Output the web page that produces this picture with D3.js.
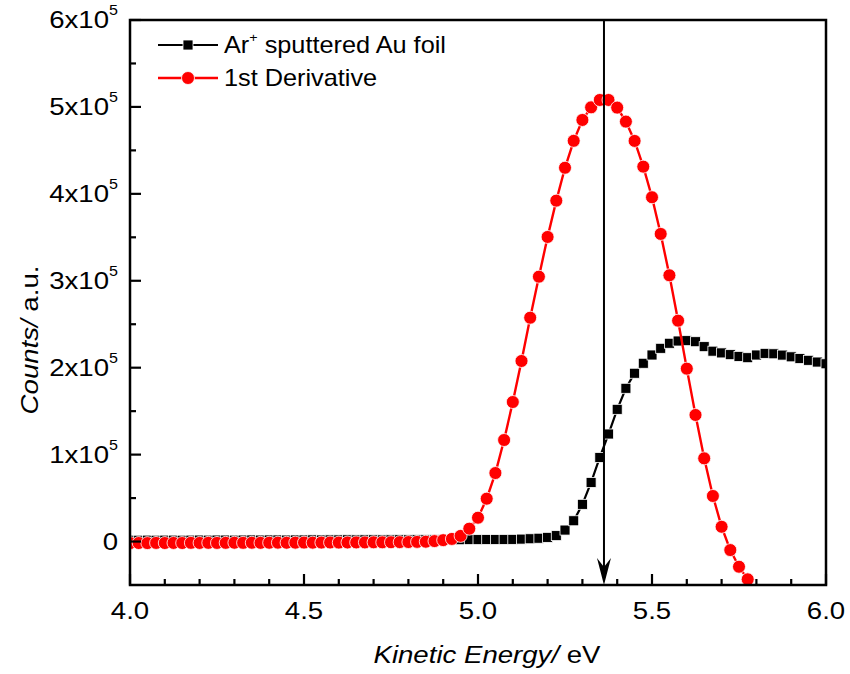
<!DOCTYPE html>
<html>
<head>
<meta charset="utf-8">
<script src="https://cdnjs.cloudflare.com/ajax/libs/d3/7.8.5/d3.min.js"></script>
<style>
  body { margin: 0; background: #fff; }
  text { font-family: "Liberation Sans", Arial, sans-serif; fill: #000; }
</style>
</head>
<body>
<div id="chart"></div>
<script>
// kinetic energy grid (eV), step 0.025
var energy = [4.000,4.025,4.050,4.075,4.100,4.125,4.150,4.175,4.200,4.225,4.250,4.275,4.300,4.325,4.350,4.375,4.400,4.425,4.450,4.475,
              4.500,4.525,4.550,4.575,4.600,4.625,4.650,4.675,4.700,4.725,4.750,4.775,4.800,4.825,4.850,4.875,4.900,4.925,4.950,4.975,
              5.000,5.025,5.050,5.075,5.100,5.125,5.150,5.175,5.200,5.225,5.250,5.275,5.300,5.325,5.350,5.375,5.400,5.425,5.450,5.475,
              5.500,5.525,5.550,5.575,5.600,5.625,5.650,5.675,5.700,5.725,5.750,5.775,5.800,5.825,5.850,5.875,5.900,5.925,5.950,5.975,6.000];

// Ar+ sputtered Au foil counts
var counts = [1500,1500,1600,1500,1600,1600,1500,1600,1700,1600,1700,1700,1600,1700,1800,1700,1800,1800,1700,1800,
              1800,1900,1800,1900,1900,2000,1900,2000,2000,1900,2000,2100,2000,2100,2100,2000,2100,2200,2100,2200,
              2200,2300,2300,2400,2500,2800,3200,3800,4800,6800,13200,23900,42800,68000,96700,123700,152100,176300,193600,205100,
              214600,222300,228100,230700,231100,229900,224200,219000,217000,215000,213000,211500,214600,216500,216000,214500,212500,210500,208500,206500,204500];

// 1st derivative (same grid, ends at 5.825)
var deriv = [-1800,-1700,-1800,-1600,-1700,-1600,-1700,-1500,-1600,-1500,-1600,-1500,-1400,-1500,-1400,-1500,-1400,-1300,-1400,-1300,
             -1200,-1300,-1200,-1100,-1200,-1100,-1000,-1000,-900,-900,-800,-700,-600,-400,-200,500,1600,3000,6500,14800,
             27400,49300,78800,116800,160500,207700,257500,304700,350400,392200,430000,461000,485000,499500,508000,508000,499200,483100,460900,431300,
             396100,353900,306300,254100,198900,145600,95700,52400,17000,-9800,-29000,-43500,-56000,-68000];

var xTicks = [4.0, 4.5, 5.0, 5.5, 6.0];
var xMinor = [4.1, 4.2, 4.3, 4.4, 4.6, 4.7, 4.8, 4.9, 5.1, 5.2, 5.3, 5.4, 5.6, 5.7, 5.8, 5.9];
var yTicks = [0, 100000, 200000, 300000, 400000, 500000, 600000];
var yMinor = [50000, 150000, 250000, 350000, 450000, 550000];
var yTickLabels = ["0", "1x10", "2x10", "3x10", "4x10", "5x10", "6x10"];
var seriesNames = ["Ar", "1st Derivative"];
var markerEnergy = 5.362;

var width = 850, height = 674;
var pLeft = 130, pRight = 826, pTop = 20, pBottom = 585;

var svg = d3.select("#chart").append("svg")
    .attr("width", width)
    .attr("height", height);

var x = d3.scaleLinear().domain([4.0, 6.0]).range([pLeft, pRight]);
var y = d3.scaleLinear().domain([-50000, 600000]).range([pBottom, pTop]);

// text in the original is a bit wider than Liberation Sans
function stretch(sel, px, py, sx) {
    return sel.attr("transform", "translate(" + px + "," + py + ") scale(" + sx + ",1)");
}

svg.append("clipPath").attr("id", "plotclip")
    .append("rect")
    .attr("x", pLeft).attr("y", pTop)
    .attr("width", pRight - pLeft).attr("height", pBottom - pTop);

var plot = svg.append("g").attr("clip-path", "url(#plotclip)");

var blackPts = energy.map(function(e, i) { return [e, counts[i]]; });
var redPts = deriv.map(function(d, i) { return [energy[i], d]; });

var line = d3.line()
    .x(function(d) { return x(d[0]); })
    .y(function(d) { return y(d[1]); });

// black series
plot.append("path")
    .datum(blackPts)
    .attr("d", line)
    .attr("fill", "none")
    .attr("stroke", "#000")
    .attr("stroke-width", 2.2);

var sq = 10;
plot.selectAll(".sq")
    .data(blackPts)
    .enter().append("rect")
    .attr("class", "sq")
    .attr("x", function(d) { return x(d[0]) - sq / 2; })
    .attr("y", function(d) { return y(d[1]) - sq / 2; })
    .attr("width", sq).attr("height", sq)
    .attr("fill", "#000")
    .attr("stroke", "#fff")
    .attr("stroke-width", 0.8);

// red series
plot.append("path")
    .datum(redPts)
    .attr("d", line)
    .attr("fill", "none")
    .attr("stroke", "#ff0000")
    .attr("stroke-width", 2.4);

plot.selectAll(".dot")
    .data(redPts)
    .enter().append("circle")
    .attr("class", "dot")
    .attr("cx", function(d) { return x(d[0]); })
    .attr("cy", function(d) { return y(d[1]); })
    .attr("r", 6.5)
    .attr("fill", "#ff0000")
    .attr("stroke", "#fff")
    .attr("stroke-width", 0.8);

// vertical marker with arrow
var mx = x(markerEnergy);
svg.append("line")
    .attr("x1", mx).attr("x2", mx)
    .attr("y1", pTop).attr("y2", pBottom - 8)
    .attr("stroke", "#000")
    .attr("stroke-width", 2);
svg.append("path")
    .attr("d", "M" + mx + "," + pBottom + " L" + (mx - 7) + "," + (pBottom - 27) +
               " L" + mx + "," + (pBottom - 18) + " L" + (mx + 7) + "," + (pBottom - 27) + " Z")
    .attr("fill", "#000");

// frame
svg.append("rect")
    .attr("x", pLeft).attr("y", pTop)
    .attr("width", pRight - pLeft).attr("height", pBottom - pTop)
    .attr("fill", "none")
    .attr("stroke", "#000")
    .attr("stroke-width", 2.5);

// inward ticks
var xTickData = xTicks.map(function(v) { return [v, 11]; }).concat(xMinor.map(function(v) { return [v, 6]; }));
var yTickData = yTicks.map(function(v) { return [v, 11]; }).concat(yMinor.map(function(v) { return [v, 6]; }));

svg.selectAll(".xtick")
    .data(xTickData)
    .enter().append("line")
    .attr("class", "xtick")
    .attr("x1", function(d) { return x(d[0]); })
    .attr("x2", function(d) { return x(d[0]); })
    .attr("y1", pBottom)
    .attr("y2", function(d) { return pBottom - d[1]; })
    .attr("stroke", "#000")
    .attr("stroke-width", 2.2);

svg.selectAll(".ytick")
    .data(yTickData)
    .enter().append("line")
    .attr("class", "ytick")
    .attr("x1", pLeft)
    .attr("x2", function(d) { return pLeft + d[1]; })
    .attr("y1", function(d) { return y(d[0]); })
    .attr("y2", function(d) { return y(d[0]); })
    .attr("stroke", "#000")
    .attr("stroke-width", 2.2);

svg.selectAll(".xlab")
    .data(xTicks)
    .enter().append("text")
    .attr("class", "xlab")
    .each(function(d) { stretch(d3.select(this), x(d), 619, 1.15); })
    .attr("text-anchor", "middle")
    .style("font-size", "24px")
    .text(function(d) { return d.toFixed(1); });

var ylab = svg.selectAll(".ylab")
    .data(yTicks)
    .enter().append("text")
    .attr("class", "ylab")
    .each(function(d) { stretch(d3.select(this), 118, y(d) + 8, 1.15); })
    .attr("text-anchor", "end")
    .style("font-size", "24px");
ylab.append("tspan")
    .text(function(d, i) { return yTickLabels[i]; });
ylab.filter(function(d) { return d !== 0; })
    .append("tspan")
    .attr("dy", -13)
    .style("font-size", "14px")
    .text("5");

// axis titles
var xt = stretch(svg.append("text"), 487, 663, 1.15)
    .attr("text-anchor", "middle")
    .style("font-size", "24px");
xt.append("tspan").style("font-style", "italic").text("Kinetic Energy/");
xt.append("tspan").text(" eV");

var yt = svg.append("text")
    .attr("transform", "translate(38,340) rotate(-90) scale(1.15,1)")
    .attr("text-anchor", "middle")
    .style("font-size", "24px");
yt.append("tspan").style("font-style", "italic").text("Counts/");
yt.append("tspan").text(" a.u.");

// legend
var legend = svg.append("g");
var lg1 = legend.append("g").attr("transform", "translate(0,45)");
lg1.append("line").attr("x1", 158).attr("x2", 218).attr("stroke", "#000").attr("stroke-width", 2.2);
lg1.append("rect").attr("x", 188 - sq / 2).attr("y", -sq / 2).attr("width", sq).attr("height", sq)
    .attr("fill", "#000").attr("stroke", "#fff").attr("stroke-width", 0.8);
var t1 = stretch(lg1.append("text"), 224, 8, 1.1).style("font-size", "23px");
t1.append("tspan").text(seriesNames[0]);
t1.append("tspan").attr("dy", -11).style("font-size", "13px").text("+");
t1.append("tspan").attr("dy", 11).text(" sputtered Au foil");

var lg2 = legend.append("g").attr("transform", "translate(0,78)");
lg2.append("line").attr("x1", 158).attr("x2", 218).attr("stroke", "#ff0000").attr("stroke-width", 2.4);
lg2.append("circle").attr("cx", 188).attr("cy", 0).attr("r", 6.5)
    .attr("fill", "#ff0000").attr("stroke", "#fff").attr("stroke-width", 0.8);
stretch(lg2.append("text"), 224, 8, 1.1).style("font-size", "23px").text(seriesNames[1]);
</script>
</body>
</html>
